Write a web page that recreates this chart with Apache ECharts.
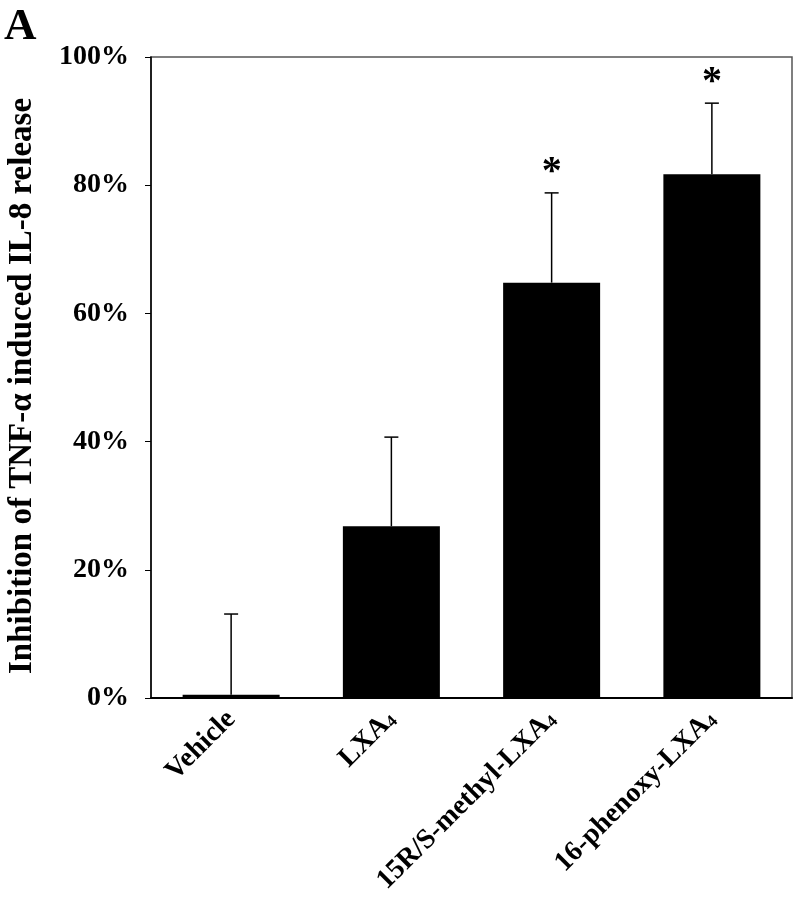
<!DOCTYPE html>
<html>
<head>
<meta charset="utf-8">
<script src="https://cdn.jsdelivr.net/npm/echarts@6/dist/echarts.min.js"></script>
<style>html,body{margin:0;padding:0;background:#fff}#c{width:799px;height:900px}</style>
</head>
<body>
<div id="c"></div>
<script>
const categories = ['Vehicle', 'LXA4', '15R/S-methyl-LXA4', '16-phenoxy-LXA4'];
const labelTexts = ['Vehicle', 'LXA{sub|4}', '15R/S-methyl-LXA{sub|4}', '16-phenoxy-LXA{sub|4}'];
const means = [0.5, 26.8, 64.8, 81.7];
const sems = [12.6, 13.9, 14.0, 11.1];
const significant = [false, false, true, true];
const yTickLabels = ['0%', '20%', '40%', '60%', '80%', '100%'];
const yTitle = 'Inhibition of TNF-α induced IL-8 release';

const serif = '"Liberation Serif", "Times New Roman", serif';
const chart = echarts.init(document.getElementById('c'));

const errData = categories.map((c, i) => [i, means[i], means[i] + sems[i], significant[i] ? 1 : 0]);

chart.setOption({
  animation: false,
  backgroundColor: '#fff',
  title: {
    text: 'A', left: -1, top: 0,
    textStyle: { fontFamily: serif, fontWeight: 'bold', fontSize: 45, color: '#000' }
  },
  graphic: [{
    type: 'text',
    x: 22, y: 386,
    rotation: Math.PI / 2,
    style: {
      text: yTitle,
      font: 'bold 33px ' + serif,
      fill: '#000',
      align: 'center', verticalAlign: 'middle'
    }
  }],
  grid: {
    left: 151, right: 7, top: 57, bottom: 202,
    show: true, borderColor: '#555', borderWidth: 1.5, backgroundColor: 'transparent'
  },
  xAxis: {
    type: 'category',
    data: categories,
    axisLine: { lineStyle: { color: '#000', width: 2 } },
    axisTick: { alignWithLabel: true, length: 6, lineStyle: { color: '#000', width: 1 } },
    axisLabel: {
      rotate: 45, margin: 17, interval: 0,
      fontFamily: serif, fontWeight: 'bold', fontSize: 28, color: '#000',
      formatter: (v, i) => labelTexts[i],
      rich: {
        sub: { fontFamily: serif, fontWeight: 'bold', fontSize: 17, color: '#000', verticalAlign: 'bottom', padding: [10, 0, 0, 0] }
      }
    }
  },
  yAxis: {
    type: 'value', min: 0, max: 100, interval: 20,
    axisLine: { show: true, lineStyle: { color: '#000', width: 1.5 } },
    axisTick: { show: true, inside: false, length: 6, lineStyle: { color: '#000', width: 1 } },
    splitLine: { show: false },
    axisLabel: {
      margin: 22,
      fontFamily: serif, fontWeight: 'bold', fontSize: 28, color: '#000',
      formatter: (v) => yTickLabels[Math.round(v / 20)]
    }
  },
  series: [
    {
      type: 'bar',
      data: means,
      barWidth: 97,
      itemStyle: { color: '#000' }
    },
    {
      type: 'custom',
      data: errData,
      z: 5,
      renderItem: function (params, api) {
        const x = api.value(0);
        const base = api.coord([x, api.value(1)]);
        const top = api.coord([x, api.value(2)]);
        const cap = 7;
        const children = [
          { type: 'line', shape: { x1: base[0], y1: base[1], x2: top[0], y2: top[1] }, style: { stroke: '#000', lineWidth: 1.5 } },
          { type: 'line', shape: { x1: top[0] - cap, y1: top[1], x2: top[0] + cap, y2: top[1] }, style: { stroke: '#000', lineWidth: 1.5 } }
        ];
        if (api.value(3) === 1) {
          children.push({
            type: 'text',
            style: {
              text: '*', x: top[0], y: top[1] - 20,
              fill: '#000', font: 'bold 40px ' + serif,
              align: 'center', verticalAlign: 'middle'
            }
          });
        }
        return { type: 'group', children: children };
      }
    }
  ]
});
</script>
</body>
</html>
